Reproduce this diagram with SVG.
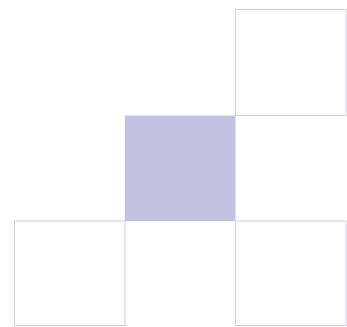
<svg xmlns="http://www.w3.org/2000/svg" width="347" height="327" viewBox="0 0 347 327">
<style>
.c{fill:#ffffff;stroke:#c9cde9;stroke-width:1}
.f{fill:#bfc3e0;stroke:none}
</style>
<rect width="347" height="327" fill="#ffffff"/>
<g id="cell-top-right"><rect class="c" x="235.5" y="9.5" width="110.5" height="106"/></g>
<g id="cell-middle"><rect class="f" x="125" y="115.5" width="110.5" height="105.5"/></g>
<g id="cell-bottom-left"><rect class="c" x="14.5" y="221" width="110.5" height="104.5"/></g>
<g id="cell-bottom-right"><rect class="c" x="235.5" y="221" width="110.5" height="104.5"/></g>
<g id="connectors"></g>
</svg>
